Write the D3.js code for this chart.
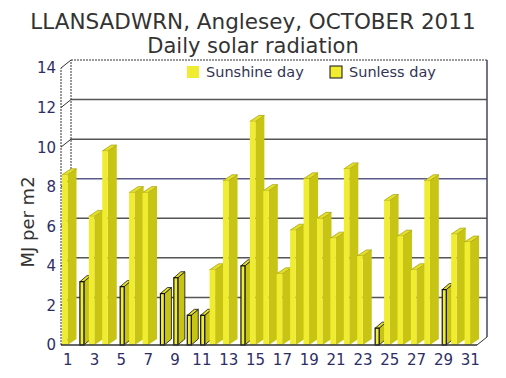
<!DOCTYPE html>
<html>
<head>
<meta charset="utf-8">
<script src="https://cdn.jsdelivr.net/npm/d3@7"></script>
<style>
  body { margin: 0; background: #fff; }
  text { font-family: Verdana, "DejaVu Sans", sans-serif; }
</style>
</head>
<body>
<div id="chart"></div>
<script>
// data //
const days = d3.range(1, 32);
const radiation = [8.6, 3.2, 6.5, 9.8, 2.95, 7.7, 7.7, 2.6, 3.4, 1.5,
                   1.5, 3.8, 8.3, 4.0, 11.3, 7.8, 3.6, 5.8, 8.4, 6.4,
                   5.4, 8.9, 4.5, 0.85, 7.3, 5.5, 3.8, 8.3, 2.8, 5.6, 5.2];
// true = sunless day
const sunless = [false, true, false, false, true, false, false, true, true, true,
                 true, false, false, true, false, false, false, false, false, false,
                 false, false, false, true, false, false, false, false, true, false, false];
const yTicks = [0, 2, 4, 6, 8, 10, 12, 14];
const xTickDays = days.filter(d => d % 2 === 1);

const W = 506, H = 378;
const svg = d3.select("#chart").append("svg")
  .attr("width", W).attr("height", H);

// front plane of the plot
const plotLeft = 61, plotRight = 477, plotTop = 68, plotBottom = 345;
// depth offset of the back wall
const dx = 10, dy = -8;

const x = d3.scaleBand().domain(days).range([plotLeft, plotRight]).padding(0);
const y = d3.scaleLinear().domain([0, 14]).range([plotBottom, plotTop]);

// title
svg.append("text").attr("x", 253).attr("y", 29).attr("text-anchor", "middle")
  .attr("font-size", 21.5).attr("fill", "#333").text("LLANSADWRN, Anglesey, OCTOBER 2011");
svg.append("text").attr("x", 253).attr("y", 53).attr("text-anchor", "middle")
  .attr("font-size", 21).attr("fill", "#333").text("Daily solar radiation");

// back wall gridlines
const gridColor = v => v === 8 ? "#5a5a8c" : (v === 14 ? "#333" : "#555");
svg.append("g").selectAll("line").data(yTicks.filter(v => v > 0)).join("line")
  .attr("x1", plotLeft + dx).attr("x2", plotRight + dx)
  .attr("y1", d => y(d) + dy).attr("y2", d => y(d) + dy)
  .attr("stroke", gridColor).attr("stroke-width", d => d === 14 ? 1 : 1.5)
  .attr("stroke-dasharray", d => d === 14 ? "2,1" : null);

// left wall
const wall = svg.append("g").attr("fill", "none");
wall.append("line").attr("x1", plotLeft + dx).attr("x2", plotLeft + dx)
  .attr("y1", y(0) + dy).attr("y2", y(14) + dy)
  .attr("stroke", "#333").attr("stroke-dasharray", "2,1");
wall.selectAll(".diag").data(yTicks).join("line").attr("class", "diag")
  .attr("x1", plotLeft).attr("x2", plotLeft + dx)
  .attr("y1", d => y(d)).attr("y2", d => y(d) + dy)
  .attr("stroke", "#333");
// right edge of back wall
wall.append("line").attr("x1", plotRight + dx).attr("x2", plotRight + dx)
  .attr("y1", y(0) + dy).attr("y2", y(14) + dy)
  .attr("stroke", "#444466").attr("stroke-width", 1.5);

// bars
const frontCol = "#f0ec30", sideCol = "#c8c414", topCol = "#e4e02a";
const bars = svg.append("g");
days.forEach((d, i) => {
  const v = radiation[i];
  const sl = sunless[i];
  const x0 = sl ? x(d) + 5.5 : x(d) + 1;
  const w = sl ? 4 : 5.5;
  const bdx = sl ? 7 : 9, bdy = -6;
  const y0 = y(0), y1 = y(v);
  const g = bars.append("g");
  const stroke = sl ? "#111" : "none";
  // side face
  g.append("path")
    .attr("d", `M${x0 + w},${y0}L${x0 + w + bdx},${y0 + bdy}L${x0 + w + bdx},${y1 + bdy}L${x0 + w},${y1}Z`)
    .attr("fill", sideCol).attr("stroke", stroke).attr("stroke-width", 0.8);
  // top face
  g.append("path")
    .attr("d", `M${x0},${y1}L${x0 + w},${y1}L${x0 + w + bdx},${y1 + bdy}L${x0 + bdx},${y1 + bdy}Z`)
    .attr("fill", topCol).attr("stroke", sl ? "#111" : "#a8a410").attr("stroke-width", 0.8);
  // front face
  g.append("rect")
    .attr("x", x0).attr("y", y1).attr("width", w).attr("height", y0 - y1)
    .attr("fill", frontCol).attr("stroke", stroke).attr("stroke-width", sl ? 1.2 : 0);
});

// floor edges and front axis
const frame = svg.append("g").attr("fill", "none").attr("stroke", "#333");
frame.append("line").attr("x1", plotLeft).attr("x2", plotRight).attr("y1", plotBottom).attr("y2", plotBottom)
  .attr("stroke-width", 1.5);
frame.append("line").attr("x1", plotRight).attr("x2", plotRight + dx).attr("y1", plotBottom).attr("y2", plotBottom + dy);
frame.append("line").attr("x1", plotLeft).attr("x2", plotLeft).attr("y1", y(0)).attr("y2", y(14))
  .attr("stroke-dasharray", "2,1");

// y axis labels
svg.append("g").selectAll("text").data(yTicks).join("text")
  .attr("x", 56).attr("y", d => y(d)).attr("dy", "0.36em")
  .attr("text-anchor", "end").attr("font-size", 15).attr("fill", "#2e2e66")
  .text(d => d);

// x axis labels
svg.append("g").selectAll("text").data(xTickDays).join("text")
  .attr("x", d => x(d) + x.bandwidth() / 2).attr("y", 365)
  .attr("text-anchor", "middle").attr("font-size", 15).attr("fill", "#2e2e66")
  .text(d => d);

// y title
svg.append("text").attr("transform", "translate(34,222) rotate(-90)")
  .attr("text-anchor", "middle").attr("font-size", 18).attr("fill", "#333")
  .text("MJ per m2");

// legend
const legend = [
  { label: "Sunshine day", x: 187, stroke: "none" },
  { label: "Sunless day", x: 330, stroke: "#111" }
];
const lg = svg.append("g");
lg.selectAll("rect").data(legend).join("rect")
  .attr("x", d => d.x).attr("y", 66).attr("width", 12).attr("height", 12)
  .attr("fill", frontCol).attr("stroke", d => d.stroke);
lg.selectAll("text").data(legend).join("text")
  .attr("x", d => d.x + 19).attr("y", 77)
  .attr("font-size", 14.5).attr("fill", "#333355")
  .text(d => d.label);
</script>
</body>
</html>
